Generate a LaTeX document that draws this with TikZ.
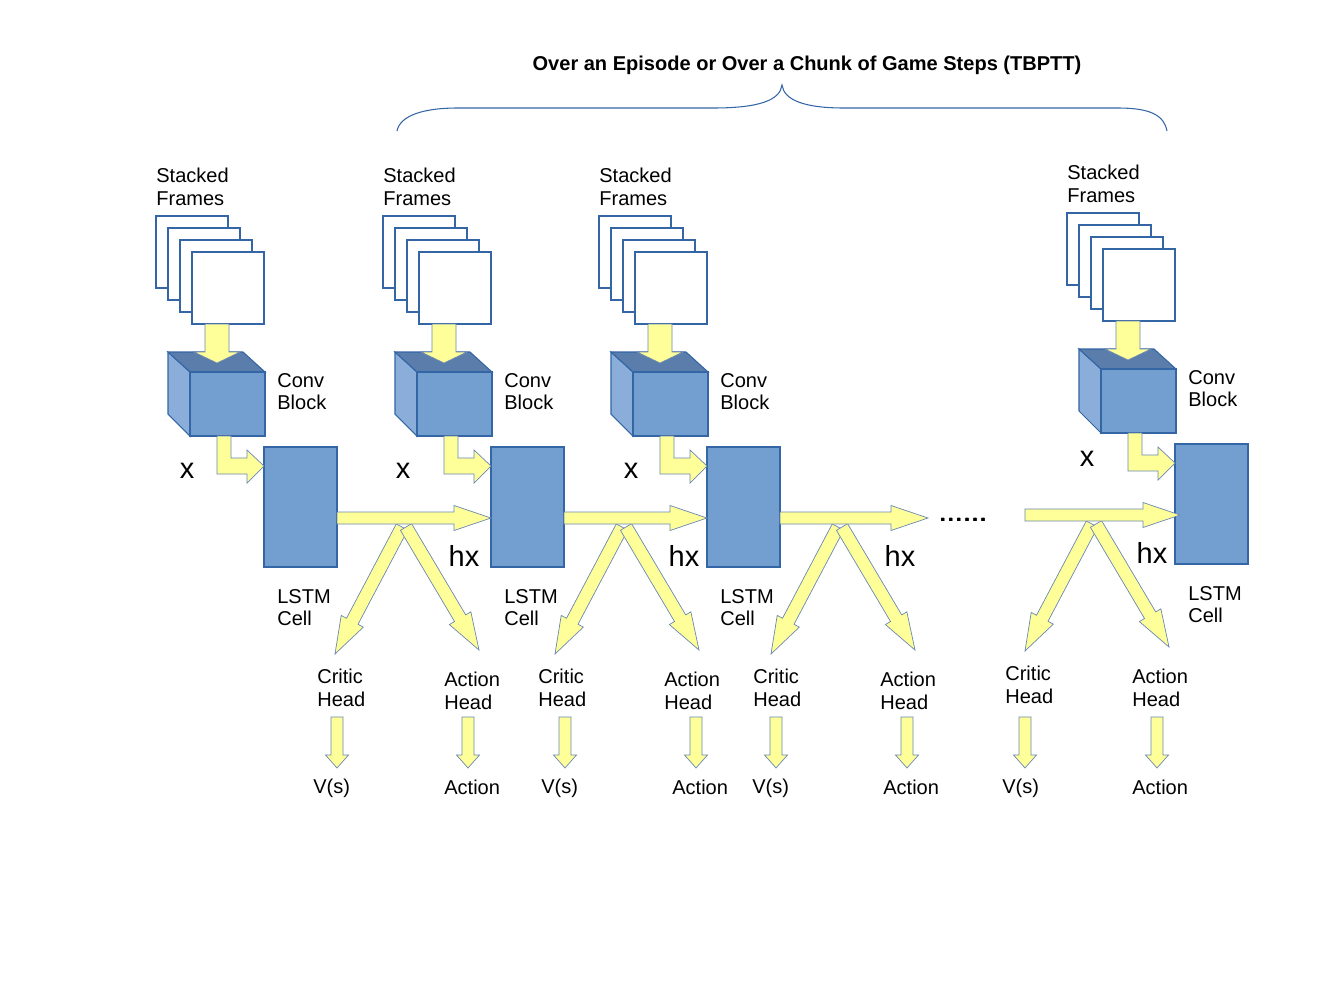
\documentclass[tikz,border=0pt]{standalone}
\usepackage{fontspec}
\setmainfont{Liberation Sans}
\usetikzlibrary{calc}
\definecolor{celfill}{HTML}{729FCF}
\definecolor{celline}{HTML}{3465A4}
\definecolor{cubetop}{HTML}{5A7DAB}
\definecolor{cubeside}{HTML}{8AADDA}
\definecolor{arrfill}{HTML}{FFFF99}
\definecolor{arrline}{HTML}{6A87B2}
\newcommand{\lblfont}{\fontsize{11.4}{12.7}\selectfont}
\newcommand{\bigfont}{\fontsize{16.5}{18}\selectfont}
% fat arrow: from, to, shaft half width, head half width, head length
\newcommand{\fatarr}[5]{%
  \coordinate (nk) at ($(#2)!#5!(#1)$);
  \filldraw[fat_a] ($(#1)!#3!90:(#2)$) -- ($(nk)!#3!90:(#2)$) -- ($(nk)!#4!90:(#2)$) -- (#2)
    -- ($(nk)!#4!-90:(#2)$) -- ($(nk)!#3!-90:(#2)$) -- ($(#1)!#3!-90:(#2)$) -- cycle;}
\tikzset{
  frm/.style = {draw=celline, fill=white, line width=0.6pt},
  cube_f/.style = {draw=celline, fill=celfill, line width=0.6pt, minimum width=1.5cm, minimum height=1.28cm, inner sep=0pt},
  cube_t/.style = {draw=celline, fill=cubetop, line width=0.6pt},
  cube_s/.style = {draw=celline, fill=cubeside, line width=0.6pt},
  lstm_c/.style = {draw=celline, fill=celfill, line width=0.6pt, minimum width=1.46cm, minimum height=2.4cm, inner sep=0pt},
  fat_a/.style = {draw=arrline, fill=arrfill, line width=0.4pt, line join=miter},
  lbl_t/.style = {font=\lblfont, align=left, inner sep=0pt, anchor=north west},
  big_t/.style = {font=\bigfont, inner sep=0pt},
  brc/.style = {draw=celline, line width=0.6pt}
}

\begin{document}
\begin{tikzpicture}[x=0.02cm, y=-0.02cm]
\path[use as bounding box] (0,0) rectangle (1323,992);

\node[font=\fontsize{11.4}{13}\bfseries\selectfont, inner sep=0pt] (ttl) at (807,65) {Over an Episode or Over a Chunk of Game Steps (TBPTT)};
\draw[brc] (397,131) .. controls (400,115) and (425,108) .. (457,108) -- (713,108)
  .. controls (760,108) and (780,100) .. (782,85)
  .. controls (784,100) and (804,108) .. (844,108) -- (1118,108)
  .. controls (1150,108) and (1164,115) .. (1167,131);

% one column per time step
\foreach \i/\dx/\dy/\xx/\xy in {1/0/0/187/471, 2/227/0/176/471, 3/443/0/188/471, 4/911/-3/176/462} {
  \begin{scope}[shift={(\dx,\dy)}]
    \foreach \k in {0,...,3}
      \draw[frm] (156+12*\k,216+12*\k) rectangle ++(72,72);
    \node[lbl_t] (sf\i) at (156,168) {Stacked\\Frames};
    \filldraw[cube_s] (168,352) -- (190,372) -- (190,436) -- (168,414) -- cycle;
    \filldraw[cube_t] (168,352) -- (243,352) -- (265,372) -- (190,372) -- cycle;
    \node[cube_f] (cb\i) at (227.5,404) {};
    \node[lbl_t] (cbl\i) at (277,373) {Conv\\Block};
    \node[lstm_c] (ls\i) at (300.5,507) {};
    \node[lbl_t] (lsl\i) at (277,589) {LSTM\\Cell};
    \node[big_t] (x\i) at (\xx,\xy) {x};
    \filldraw[fat_a] (205,324) -- (229,324) -- (229,352) -- (240,352) -- (217,363) -- (194,352) -- (205,352) -- cycle;
    \filldraw[fat_a] (217,436) -- (231,436) -- (231,458) -- (247,458) -- (247,450) -- (264,466) -- (247,483) -- (247,474) -- (217,474) -- cycle;
  \end{scope}
}

% heads split off the hidden state
\foreach \i/\sx/\sy/\hx in {1/404/527/464, 2/624/527/684, 3/840/527/900, 4/1094/524/1152} {
  \coordinate (crs) at (\sx-2,\sy);
  \coordinate (crt) at (\sx-69,\sy+127);
  \coordinate (acs) at (\sx+2,\sy);
  \coordinate (act) at (\sx+75,\sy+123);
  \fatarr{crs}{crt}{0.13cm}{0.25cm}{0.74cm}
  \fatarr{acs}{act}{0.13cm}{0.25cm}{0.74cm}
  \node[big_t] (hx\i) at (\hx,\sy+29) {hx};
}

% hidden state passed on
\coordinate (h1a) at (337,518); \coordinate (h1b) at (491,518);
\coordinate (h2a) at (564,518); \coordinate (h2b) at (707,518);
\coordinate (h3a) at (780,518); \coordinate (h3b) at (928,518);
\coordinate (h4a) at (1025,515); \coordinate (h4b) at (1180,515);
\foreach \k in {1,...,4}
  \fatarr{h\k a}{h\k b}{0.12cm}{0.25cm}{0.74cm}
\node[big_t, anchor=base] (dts) at (963,521) {......};

% outputs
\foreach \cx/\ax/\vx/\ox/\dy in {317/444/313/444/0, 538/664/541/672/0, 753/880/752/883/0, 1005/1132/1002/1132/-3} {
  \node[lbl_t] (chd) at (\cx,669+\dy) {Critic\\Head};
  \node[lbl_t] (ahd) at (\ax,672+\dy) {Action\\Head};
  \node[font=\lblfont, inner sep=0pt, anchor=base west] (vs) at (\vx,793) {V(s)};
  \node[font=\lblfont, inner sep=0pt, anchor=base west] (acn) at (\ox,794) {Action};
}
\foreach \ax in {337,468,565,696,776,907,1025,1157} {
  \coordinate (da) at (\ax,717);
  \coordinate (db) at (\ax,768);
  \fatarr{da}{db}{0.12cm}{0.23cm}{0.26cm}
}
\end{tikzpicture}
\end{document}
